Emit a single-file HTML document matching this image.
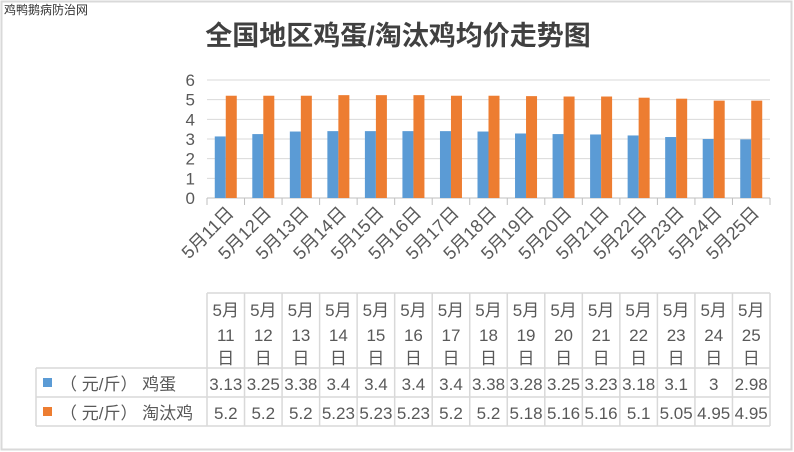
<!DOCTYPE html>
<html><head><meta charset="utf-8"><style>
body{margin:0;background:#fff;}
svg{display:block;font-family:"Liberation Sans","Noto Sans CJK SC",sans-serif;}
</style></head><body>
<svg id="c" width="794" height="452" viewBox="0 0 794 452" xmlns="http://www.w3.org/2000/svg">
<rect x="1.5" y="1.5" width="790" height="448" fill="#fff" stroke="#d9d9d9" stroke-width="2"/>
<text x="4" y="14" font-size="12" fill="#333">鸡鸭鹅病防治网</text>
<text x="398" y="45" font-size="27" font-weight="bold" fill="#404040" text-anchor="middle">全国地区鸡蛋/淘汰鸡均价走势图</text>
<g id="grid"></g><g id="bars"></g><g id="xl"></g><g id="tbl"></g>
</svg>
<script>
const categories=["5月11日","5月12日","5月13日","5月14日","5月15日","5月16日","5月17日","5月18日","5月19日","5月20日","5月21日","5月22日","5月23日","5月24日","5月25日"];
const eggValues=[3.13,3.25,3.38,3.4,3.4,3.4,3.4,3.38,3.28,3.25,3.23,3.18,3.1,3,2.98];
const henValues=[5.2,5.2,5.2,5.23,5.23,5.23,5.2,5.2,5.18,5.16,5.16,5.1,5.05,4.95,4.95];
const yTicks=[0,1,2,3,4,5,6];
const eggLabels=["3.13","3.25","3.38","3.4","3.4","3.4","3.4","3.38","3.28","3.25","3.23","3.18","3.1","3","2.98"];
const henLabels=["5.2","5.2","5.2","5.23","5.23","5.23","5.2","5.2","5.18","5.16","5.16","5.1","5.05","4.95","4.95"];
const NS="http://www.w3.org/2000/svg";
const x0=207,x1=770,y0=198,yTop=80,yMax=6;
const bw=(x1-x0)/categories.length;
const X=i=>x0+i*bw;
const Y=v=>y0-(v/yMax)*(y0-yTop);
function mk(tag,attrs,parent,txt){const e=document.createElementNS(NS,tag);for(const k in attrs)e.setAttribute(k,attrs[k]);if(txt!==undefined)e.textContent=txt;document.getElementById(parent).appendChild(e);return e;}
yTicks.forEach(t=>{
  const l=mk('line',{x1:x0,x2:x1,y1:Y(t),y2:Y(t),stroke:t===0?'#bfbfbf':'#d9d9d9','stroke-width':1},'grid');
  
  
  const tx=mk('text',{x:195,y:Y(t)+6,'font-size':17,fill:'#595959','text-anchor':'end'},'grid',String(t));
  
  
});
for(let i=0;i<=categories.length;i++){
  const tk=mk('line',{x1:X(i),x2:X(i),y1:y0,y2:y0+7,stroke:'#bfbfbf'},'grid');
  
  
}
const w=11;
categories.forEach((c,i)=>{
  const cx=X(i)+bw/2;
  const b1=mk('rect',{x:cx-w,y:Y(eggValues[i]),width:w,height:y0-Y(eggValues[i]),fill:'#5b9bd5'},'bars');
  
  
  const b2=mk('rect',{x:cx,y:Y(henValues[i]),width:w,height:y0-Y(henValues[i]),fill:'#ed7d31'},'bars');
  
  
  const lx=cx+9,ly=214;
  const t=mk('text',{x:lx,y:ly,'font-size':18,fill:'#595959','text-anchor':'end',transform:`rotate(-45 ${lx} ${ly})`},'xl',c);
  
  
});
const ht=293,r1=368,r2=397,r3=426,lx0=36;
const g='tbl';
function ln(a,b,c,d){const l=mk('line',{x1:a,y1:b,x2:c,y2:d,stroke:'#d9d9d9','stroke-width':1.5},g);}
ln(x0,ht,x1,ht);ln(lx0,r1,x1,r1);ln(lx0,r2,x1,r2);ln(lx0,r3,x1,r3);
ln(lx0,r1,lx0,r3);
for(let i=0;i<=categories.length;i++)ln(X(i),ht,X(i),r3);
categories.forEach((c,i)=>{
  const cx=X(i)+bw/2;
  const m=c.match(/(\d+)月(\d+)日/);
  [[m[1]+'月',316],[m[2],341],['日',364]].forEach(([s,yy])=>{
    const t=mk('text',{x:cx,y:yy,'font-size':17,fill:'#595959','text-anchor':'middle'},g,s);
    
    
  });
  const a=mk('text',{x:cx,y:390,'font-size':17,fill:'#595959','text-anchor':'middle'},g,eggLabels[i]);
  
  
  const b=mk('text',{x:cx,y:419,'font-size':17,fill:'#595959','text-anchor':'middle'},g,henLabels[i]);
  
  
});
const k1=mk('rect',{x:43,y:378,width:9,height:9,fill:'#5b9bd5'},g);


const k2=mk('rect',{x:43,y:407,width:9,height:9,fill:'#ed7d31'},g);


const l1=mk('text',{x:60,y:390,'font-size':17,fill:'#595959'},g,'（ 元/斤） 鸡蛋');


const l2=mk('text',{x:60,y:419,'font-size':17,fill:'#595959'},g,'（ 元/斤） 淘汰鸡');


</script>
</body></html>
